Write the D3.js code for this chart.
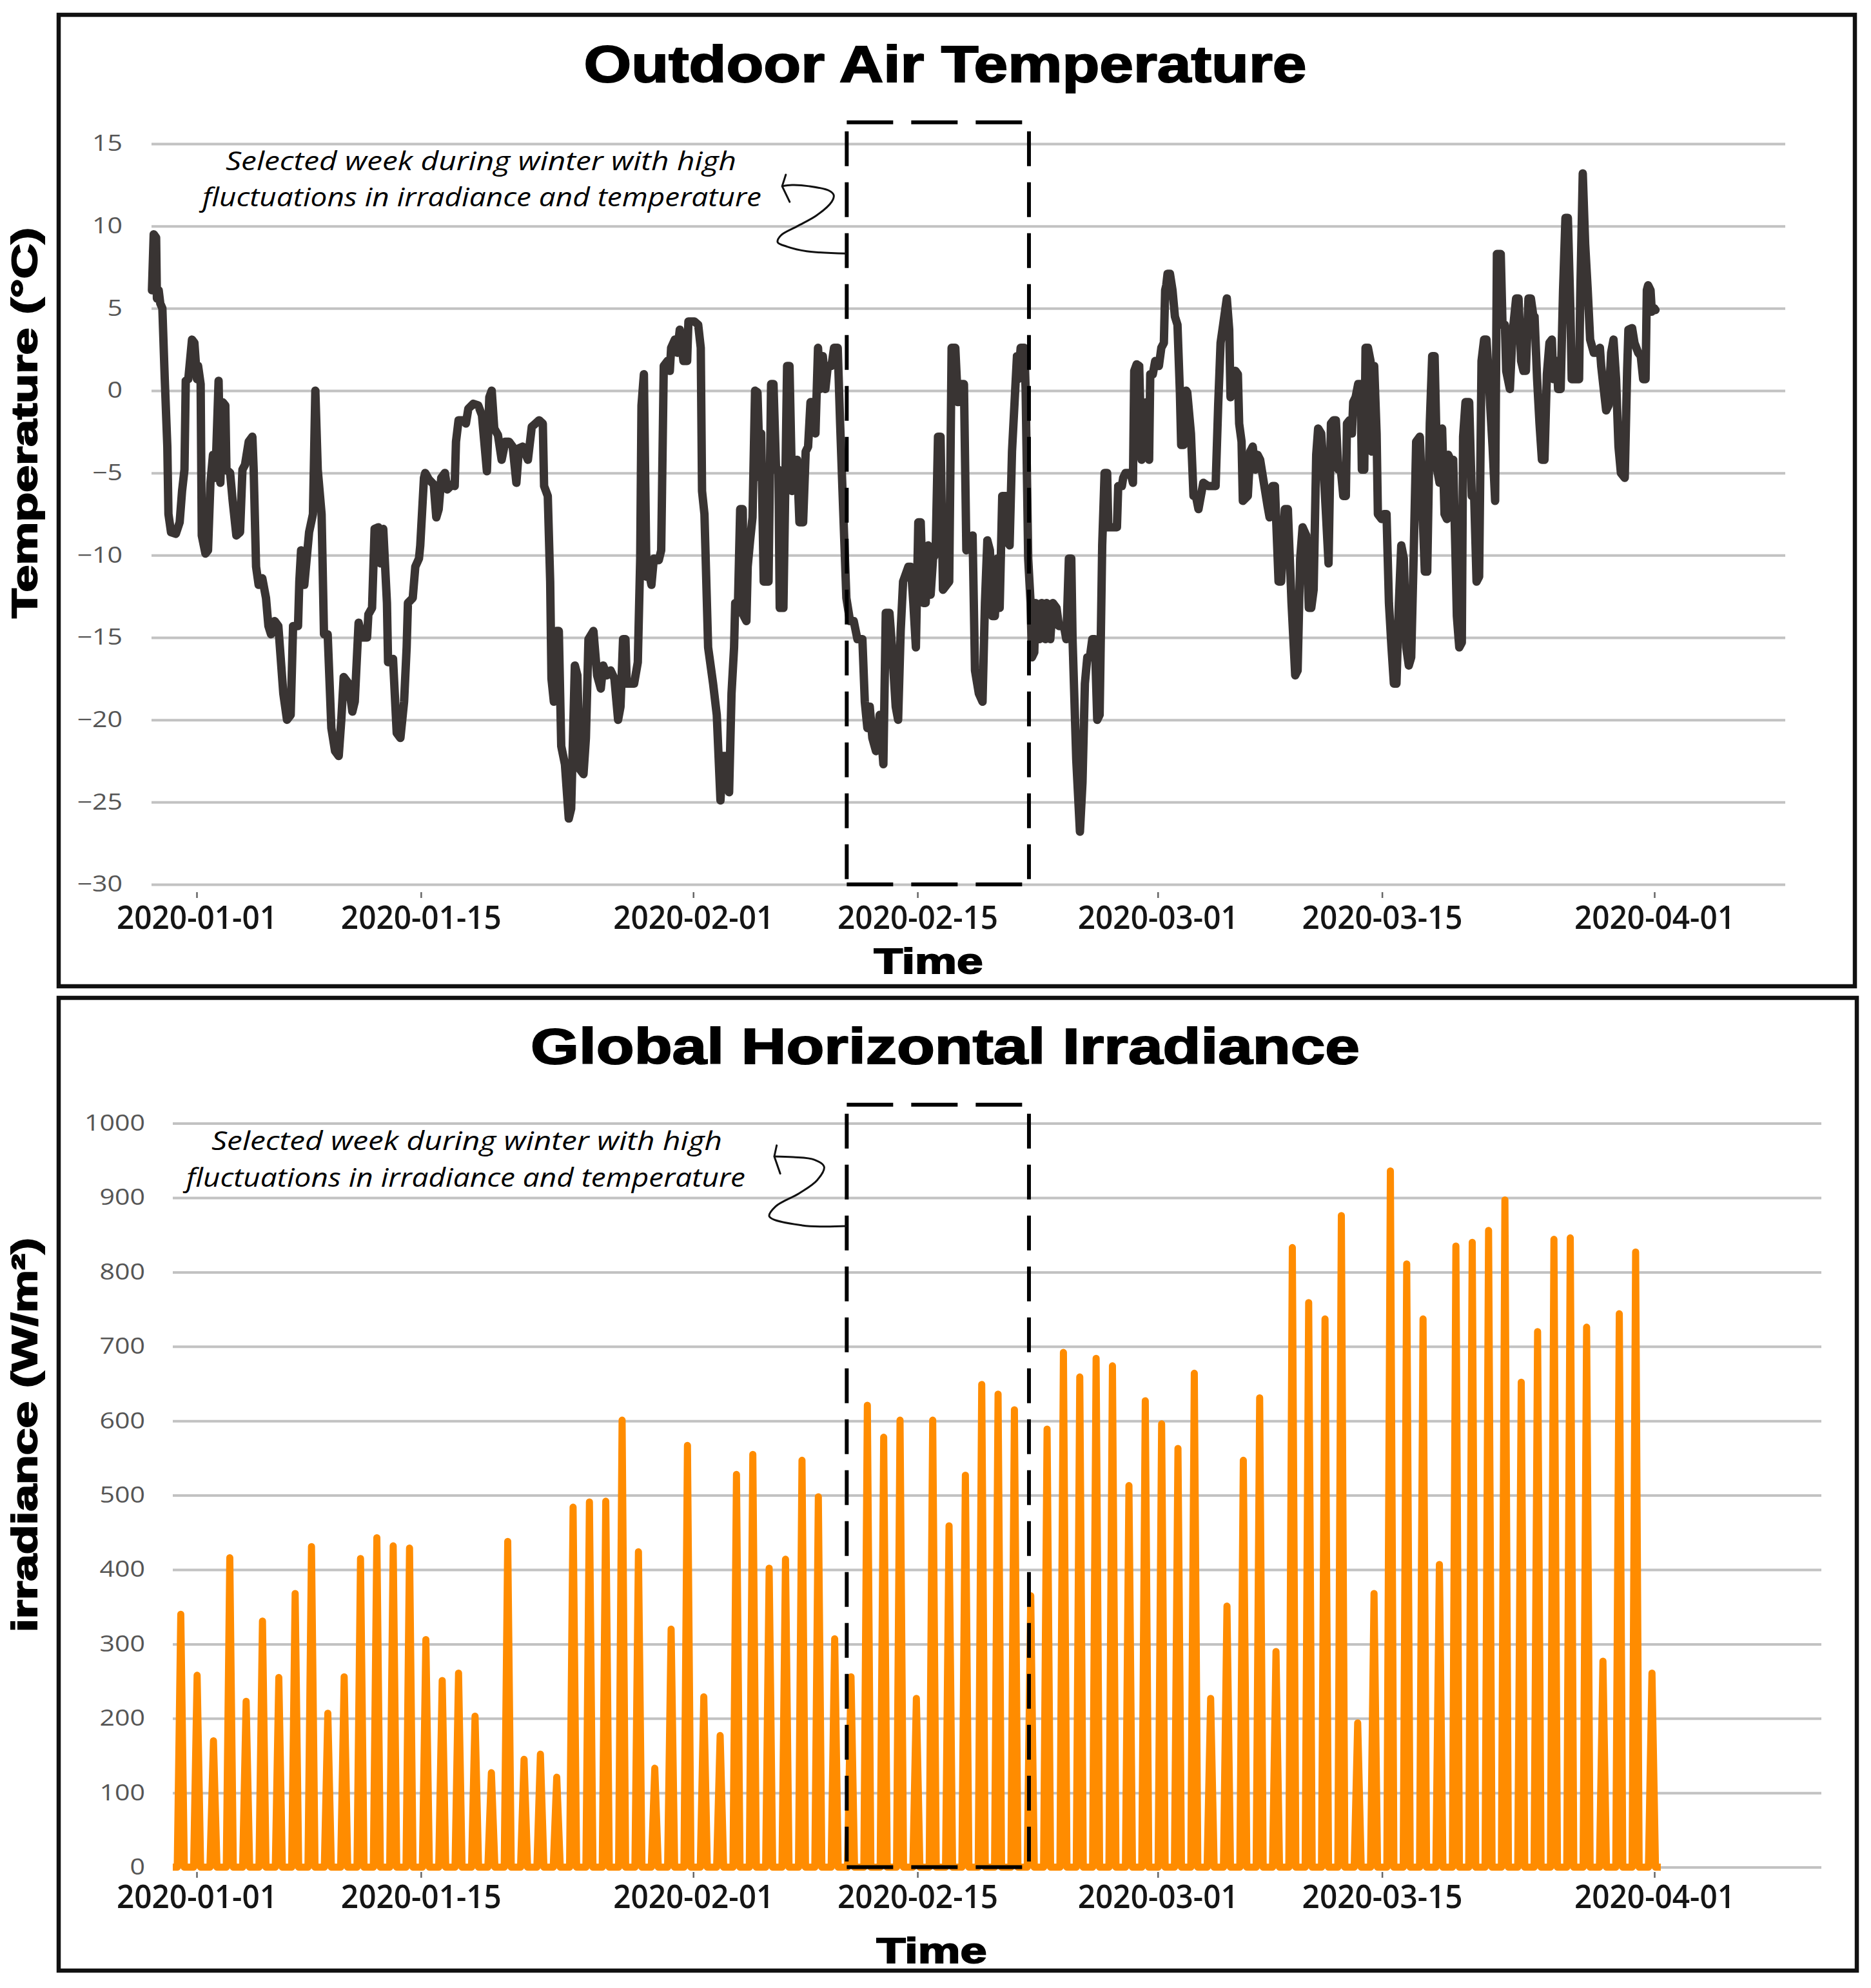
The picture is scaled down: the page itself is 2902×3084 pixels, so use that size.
<!DOCTYPE html>
<html>
<head>
<meta charset="utf-8">
<script src="https://d3js.org/d3.v7.min.js"></script>
<style>
body { margin: 0; background: #fff; }
svg { display: block; }
</style>
</head>
<body>
<div id="chart"></div>
<script>
// ---- data ----
var dateTicks = ["2020-01-01", "2020-01-15", "2020-02-01", "2020-02-15", "2020-03-01", "2020-03-15", "2020-04-01"];
var tempTicks = [-30, -25, -20, -15, -10, -5, 0, 5, 10, 15];
var irrTicks = [0, 100, 200, 300, 400, 500, 600, 700, 800, 900, 1000];

// [days after 2020-01-01 00:00 UTC, temperature degC]
var tempSeries = [
[-2.79,6.1],[-2.68,9.5],[-2.53,9.3],[-2.48,5.6],[-2.37,6.1],[-2.27,5.3],[-2.14,5.0],[-1.99,0.7],[-1.83,-3.4],[-1.76,-7.5],[-1.60,-8.6],[-1.30,-8.7],[-1.06,-8.0],[-0.91,-6.1],[-0.76,-4.8],[-0.68,0.6],[-0.52,0.7],[-0.29,3.1],[-0.14,2.9],[0.02,0.7],[0.09,1.5],[0.25,0.4],[0.32,-8.8],[0.55,-9.9],[0.71,-9.7],[0.86,-5.6],[1.02,-3.9],[1.17,-5.3],[1.37,0.6],[1.48,-5.6],[1.63,-0.7],[1.79,-0.9],[1.86,-4.8],[2.09,-5.0],[2.25,-6.7],[2.48,-8.8],[2.71,-8.6],[2.86,-4.8],[3.02,-4.5],[3.25,-3.1],[3.48,-2.8],[3.56,-4.8],[3.71,-10.7],[3.87,-11.8],[4.10,-11.4],[4.33,-12.6],[4.48,-14.3],[4.64,-14.8],[4.87,-14.0],[5.10,-14.3],[5.41,-18.4],[5.64,-20.0],[5.87,-19.7],[6.02,-14.3],[6.33,-14.3],[6.41,-11.6],[6.52,-9.7],[6.72,-11.8],[6.87,-10.2],[7.02,-8.6],[7.26,-7.5],[7.41,0.0],[7.56,-4.8],[7.80,-7.5],[7.95,-14.8],[8.18,-14.8],[8.41,-20.5],[8.64,-21.9],[8.87,-22.2],[9.03,-20.0],[9.18,-17.4],[9.49,-17.8],[9.72,-19.5],[9.87,-18.9],[10.11,-14.1],[10.34,-15.0],[10.64,-15.0],[10.72,-13.6],[10.95,-13.2],[11.11,-8.4],[11.34,-8.3],[11.49,-10.5],[11.65,-8.4],[11.88,-12.9],[11.95,-16.5],[12.26,-16.3],[12.49,-20.8],[12.72,-21.1],[12.95,-18.9],[13.11,-15.6],[13.19,-12.9],[13.49,-12.6],[13.65,-10.7],[13.88,-10.2],[13.96,-9.4],[14.19,-5.3],[14.27,-5.0],[14.5,-5.4],[14.8,-5.7],[14.96,-7.7],[15.11,-7.2],[15.27,-5.3],[15.5,-5.0],[15.65,-6.0],[15.96,-5.7],[16.11,-5.8],[16.19,-3.1],[16.35,-1.8],[16.65,-1.8],[16.81,-2.0],[16.96,-1.1],[17.27,-0.8],[17.58,-0.9],[17.81,-1.5],[18.12,-4.9],[18.27,-0.4],[18.42,0.0],[18.58,-2.3],[18.81,-2.7],[19.04,-4.2],[19.27,-3.1],[19.5,-3.1],[19.73,-3.4],[19.96,-5.6],[20.12,-3.5],[20.35,-3.4],
[20.68,-4.2],[20.92,-2.2],[21.15,-2.0],[21.38,-1.8],[21.61,-2.0],[21.69,-5.8],[21.92,-6.4],[22.07,-11.6],[22.15,-17.5],[22.30,-18.9],[22.46,-14.6],[22.61,-14.6],[22.76,-21.6],[22.99,-22.7],[23.23,-26.0],[23.38,-25.4],[23.61,-16.7],[23.77,-17.3],[23.92,-23.0],[24.15,-23.3],[24.3,-21.1],[24.46,-15.1],[24.77,-14.6],[25.0,-17.3],[25.23,-18.1],[25.38,-16.7],[25.61,-17.3],[25.84,-17.0],[26.08,-17.5],[26.31,-20.0],[26.46,-19.2],[26.62,-15.1],[26.77,-15.1],[26.85,-17.8],[27.08,-17.8],[27.31,-17.8],[27.54,-16.5],[27.69,-10.2],[27.77,-0.9],[27.92,1.0],[28.08,-11.3],[28.23,-11.0],[28.39,-11.8],[28.54,-10.2],[28.85,-10.3],[29.0,-9.7],[29.16,1.5],[29.39,1.8],[29.54,1.2],[29.62,2.6],[29.85,3.1],[30.0,2.3],[30.16,3.7],[30.39,1.8],[30.62,1.8],[30.7,4.2],[31.08,4.2],[31.31,4.0],[31.47,2.6],[31.55,-6.1],[31.7,-7.5],[31.93,-15.6],[32.24,-17.8],[32.47,-19.7],[32.7,-24.9],[32.85,-22.2],[33.01,-22.2],[33.24,-24.4],[33.39,-18.4],[33.55,-15.6],[33.62,-12.9],[33.78,-13.5],[33.93,-7.2],[34.09,-7.2],[34.16,-13.7],[34.32,-14.0],[34.4,-10.7],[34.55,-9.1],[34.7,-7.7],[34.86,0.0],[35.01,-0.1],[35.17,-5.3],[35.24,-2.6],[35.4,-11.6],[35.7,-11.6],[35.86,0.4],[36.01,0.4],[36.17,-4.8],[36.32,-4.8],[36.4,-13.2],[36.63,-13.2],[36.86,1.5],[37.01,1.5],[37.17,-6.1],[37.32,-4.8],[37.48,-4.2],[37.63,-8.0],[37.86,-8.0],[38.02,-3.7],[38.17,-3.4],[38.32,-0.7],[38.48,-0.7],[38.63,-2.6],[38.79,2.6],[38.94,0.1],[39.09,2.1],[39.25,0.1],[39.4,1.5],[39.63,1.5],[39.79,2.6],[40.02,2.6],[40.17,-2.0],[40.33,-6.4],[40.56,-12.6],[40.79,-14.0],[41.02,-14.0],[41.25,-15.1],[41.56,-15.1],[41.71,-18.9],[41.87,-20.5],[42.02,-19.2],[42.18,-21.1],[42.41,-21.9],[42.64,-19.7],[42.87,-22.7],[43.02,-13.5],[43.25,-13.5],[43.41,-15.6],[43.64,-19.2],[43.79,-20.0],[43.95,-14.6],[44.1,-11.6],
[44.43,-10.7],[44.59,-10.7],[44.74,-12.9],[44.9,-15.6],[45.05,-8.0],[45.2,-8.0],[45.36,-12.9],[45.51,-12.9],[45.67,-9.4],[45.82,-12.4],[45.97,-10.2],[46.13,-9.9],[46.28,-2.8],[46.44,-2.8],[46.59,-12.1],[46.82,-11.8],[46.98,-11.6],[47.13,2.6],[47.36,2.6],[47.52,-0.7],[47.67,0.4],[47.9,0.4],[48.05,-9.7],[48.29,-9.1],[48.44,-8.8],[48.59,-17.0],[48.83,-18.4],[49.06,-18.9],[49.21,-12.9],[49.36,-9.1],[49.52,-9.7],[49.67,-13.7],[49.83,-13.7],[49.98,-10.2],[50.13,-13.2],[50.29,-6.4],[50.52,-6.4],[50.6,-9.1],[50.75,-9.4],[50.9,-3.7],[51.06,-0.7],[51.21,2.1],[51.29,0.7],[51.44,2.6],[51.67,2.6],[51.75,0.1],[51.91,-10.2],[52.06,-12.9],[52.14,-16.2],[52.29,-15.9],[52.37,-12.9],[52.6,-15.1],[52.75,-12.9],[52.98,-15.1],[53.06,-12.9],[53.29,-15.1],[53.45,-12.9],[53.68,-13.2],[53.83,-14.3],[54.14,-14.3],[54.29,-15.1],[54.45,-10.2],[54.6,-10.2],[54.68,-15.1],[54.91,-22.4],[55.14,-26.8],[55.3,-23.8],[55.45,-17.8],[55.6,-16.2],[55.76,-16.2],[55.91,-15.1],[56.07,-15.1],[56.22,-20.0],[56.37,-19.7],[56.53,-9.4],[56.68,-5.0],[56.84,-5.0],[56.91,-8.3],[57.22,-8.3],[57.45,-8.3],[57.53,-5.8],[57.76,-5.8],[57.84,-5.3],[57.99,-5.0],[58.3,-5.0],[58.45,-5.6],[58.53,1.2],[58.68,1.6],[58.84,1.5],[58.99,-4.2],[59.15,-3.9],[59.3,-0.7],[59.46,-4.2],[59.53,1.0],[59.69,1.0],[59.84,1.8],[60.07,1.5],[60.22,2.6],[60.38,2.9],[60.46,6.1],[60.53,6.4],[60.61,7.1],[60.76,7.1],[60.92,6.1],[61.07,4.5],[61.23,4.0],[61.38,-0.1],[61.46,-3.3],[61.61,-3.3],[61.77,0.0],[61.84,-0.1],[62.07,-2.6],[62.23,-6.4],[62.38,-6.4],[62.54,-7.2],[62.69,-6.4],[62.84,-5.6],[63.15,-5.8],[63.46,-5.8],[63.61,-5.8],[63.77,-0.9],[63.92,2.9],[64.08,4.0],[64.31,5.6],[64.46,3.7],[64.54,-0.4],[64.69,0.1],[64.85,1.2],[65.0,1.0],[65.08,-2.0],[65.23,-3.1],[65.31,-6.7],[65.62,-6.4],[65.77,-3.7],[65.93,-3.4],[66.08,-4.8],[66.23,-3.9],[66.39,-4.2],[66.62,-5.6],[66.85,-7.0],[66.98,-7.7],[67.16,-5.8],[67.31,-5.8],[67.54,-11.6],[67.7,-11.6],[67.93,-7.2],
[68.12,-7.2],[68.35,-12.9],[68.58,-17.3],[68.73,-17.0],[68.89,-10.2],[69.04,-8.3],[69.27,-8.8],[69.43,-13.2],[69.58,-13.2],[69.73,-12.1],[69.89,-3.9],[70.01,-2.3],[70.2,-2.6],[70.35,-4.8],[70.5,-7.5],[70.66,-10.5],[70.81,-2.0],[70.97,-1.8],[71.12,-1.8],[71.27,-4.8],[71.43,-4.8],[71.58,-6.4],[71.74,-6.4],[71.81,-2.0],[71.97,-1.8],[72.12,-2.6],[72.2,-0.7],[72.35,-0.4],[72.51,0.4],[72.66,0.4],[72.74,-4.8],[72.89,-4.8],[72.97,2.6],[73.12,2.6],[73.28,1.8],[73.36,-3.7],[73.51,1.5],[73.66,-2.6],[73.74,-7.5],[73.97,-7.8],[74.13,-7.5],[74.28,-7.5],[74.43,-12.9],[74.59,-15.6],[74.74,-17.8],[74.9,-17.8],[75.05,-12.9],[75.2,-9.4],[75.36,-10.2],[75.51,-15.6],[75.67,-16.7],[75.82,-16.2],[75.97,-10.2],[76.13,-3.1],[76.36,-2.8],[76.51,-6.9],[76.67,-11.0],[76.82,-11.0],[76.98,-2.0],[77.13,2.1],[77.28,2.1],[77.44,-4.8],[77.59,-5.6],[77.75,-2.3],[77.9,-7.5],[78.05,-7.8],[78.13,-3.9],[78.28,-4.2],[78.44,-4.2],[78.59,-10.2],[78.67,-13.7],[78.82,-15.6],[78.98,-15.3],[79.06,-2.8],[79.21,-0.7],[79.44,-0.7],[79.6,-6.4],[79.75,-6.4],[79.9,-11.6],[80.06,-11.3],[80.21,1.8],[80.37,3.1],[80.52,3.1],[80.67,0.7],[80.75,-0.9],[80.9,-3.4],[81.06,-6.7],[81.17,8.3],[81.41,8.3],[81.52,4.0],[81.67,4.0],[81.75,1.2],[81.98,0.1],[82.14,3.4],[82.37,5.6],[82.52,5.6],[82.68,1.8],[82.83,1.2],[82.98,1.2],[83.14,5.6],[83.29,5.6],[83.45,4.5],[83.52,4.5],[83.68,0.7],[83.83,-2.0],[83.98,-4.2],[84.14,-4.2],[84.29,1.0],[84.45,2.9],[84.6,3.1],[84.68,0.7],[84.91,1.8],[84.99,0.1],[85.15,0.1],[85.3,6.1],[85.45,10.5],[85.6,10.5],[85.76,4.8],[85.84,0.7],[85.99,0.7],[86.3,0.7],[86.37,5.6],[86.53,13.2],[86.68,8.9],[86.84,6.1],[86.99,3.1],[87.22,2.3],[87.45,2.3],[87.6,2.6],[87.68,1.5],[87.84,0.1],[87.99,-1.2],[88.14,-0.9],[88.3,2.3],[88.45,3.1],[88.61,0.7],[88.76,-3.4],[88.91,-5.0],[89.15,-5.3],[89.3,1.2],[89.38,3.7],[89.61,3.8],[89.76,2.9],[89.99,2.3],[90.15,2.1],[90.3,0.7],[90.45,0.7],[90.53,6.1],[90.61,6.4],[90.76,6.1],[90.84,4.8],[90.99,5.0],[91.07,4.9]
];

// daily irradiance peaks: time (days after 2020-01-01) and peak W/m2
var irrPeakDays = [-0.99,0.03,1.05,2.07,3.09,4.11,5.13,6.15,7.17,8.19,9.21,10.23,11.25,12.27,13.29,14.31,15.33,16.35,17.38,18.40,19.42,20.44,21.46,22.48,23.50,24.52,25.54,26.56,27.58,28.60,29.62,30.64,31.66,32.68,33.70,34.72,35.74,36.76,37.79,38.81,39.83,40.85,41.87,42.89,43.91,44.93,45.95,46.97,47.99,49.01,50.03,51.05,52.07,53.09,54.11,55.13,56.15,57.17,58.20,59.22,60.24,61.26,62.28,63.30,64.32,65.34,66.36,67.38,68.40,69.42,70.44,71.46,72.48,73.50,74.52,75.54,76.56,77.58,78.61,79.63,80.65,81.67,82.69,83.71,84.73,85.75,86.77,87.79,88.81,89.83,90.85];
var irrPeakValues = [340,258,170,416,223,331,255,368,431,207,256,415,443,432,429,306,251,261,203,127,438,145,152,121,484,491,492,601,424,133,320,567,229,177,528,555,402,414,547,498,307,256,621,578,601,227,601,459,527,649,636,615,365,589,692,659,684,674,513,627,596,563,664,227,351,547,631,290,833,759,737,876,194,368,936,811,737,407,835,840,856,897,652,720,844,846,726,277,744,827,261];
var irrSpan = [-1.49, 91.4];

var selectedWeek = ["2020-02-10T14:00Z", "2020-02-21T23:00Z"];
var tempBoxTop = 16.3;
var irrBoxTop = 1025;
var noteLines = ["Selected week during winter with high", "fluctuations in irradiance and temperature"];

// hand-drawn arrows, in data units of each panel
var tempArrow = [[40.56,8.33],[38.08,8.47],[36.86,8.75],[36.27,9.02],[36.47,9.43],[37.48,9.98],[38.71,10.65],[39.64,11.47],[39.77,11.88],[39.48,12.15],[38.24,12.42],[37.16,12.49],[36.55,12.42]];
var tempArrowHead = [[36.78,13.12],[36.55,12.42],[37.02,11.47]];
var irrArrow = [[40.58,861.9],[37.8,862.8],[35.75,874.9],[36.14,888.2],[37.63,906.1],[38.73,923.4],[39.17,941.6],[38.56,951.1],[37.24,954.6],[36.06,955.5]];
var irrArrowHead = [[36.21,970.3],[36.06,955.5],[36.43,932.4]];

// ---- drawing ----
var W = 2902, H = 3084;
var svg = d3.select("#chart").append("svg").attr("width", W).attr("height", H);
svg.append("rect").attr("width", W).attr("height", H).attr("fill", "#fff");

var t0 = Date.UTC(2020, 0, 1);
function toDate(d) { return new Date(t0 + d * 864e5); }

var x = d3.scaleUtc()
    .domain([new Date("2020-01-01T00:00Z"), new Date("2020-04-01T00:00Z")])
    .range([305, 2566]);

var yT = d3.scaleLinear().domain([-30, 15]).range([1372, 223]);
var yI = d3.scaleLinear().domain([0, 1000]).range([2896.6, 1742.6]);

function panelFrame(r) {
  svg.append("rect").attr("x", r[0]).attr("y", r[1]).attr("width", r[2] - r[0]).attr("height", r[3] - r[1])
    .attr("fill", "none").attr("stroke", "#111").attr("stroke-width", 6.5);
}

function yAxisGrid(y, ticks, gx0, gx1, pad) {
  var g = svg.append("g").attr("transform", "translate(" + gx0 + ",0)")
    .call(d3.axisLeft(y).tickValues(ticks).tickSize(-(gx1 - gx0)).tickPadding(pad).tickFormat(d3.format("d")));
  g.select(".domain").remove();
  g.selectAll(".tick line").attr("stroke", "#c2c2c2").attr("stroke-width", 4);
  g.selectAll(".tick text")
    .attr("fill", "#555").attr("font-size", 34).attr("font-family", "Open Sans, sans-serif")
    .attr("textLength", function(d) { return d3.format("d")(d).length * 23.5; })
    .attr("lengthAdjust", "spacingAndGlyphs");
}

function xAxis(yPos, pad) {
  var g = svg.append("g").attr("transform", "translate(0," + yPos + ")")
    .call(d3.axisBottom(x).tickValues(dateTicks.map(function(d) { return new Date(d + "T00:00Z"); }))
      .tickFormat(d3.utcFormat("%Y-%m-%d")).tickSize(9).tickPadding(pad));
  g.select(".domain").remove();
  g.selectAll(".tick line").attr("stroke", "#666").attr("stroke-width", 2.5);
  g.selectAll(".tick text")
    .attr("fill", "#151515").attr("font-size", 50).attr("font-weight", 600)
    .attr("font-family", "Open Sans, sans-serif")
    .attr("textLength", 249).attr("lengthAdjust", "spacingAndGlyphs");
}

function heavyText(tx, ty, size, len, str, rot) {
  return svg.append("text")
    .attr("transform", "translate(" + tx + "," + ty + ")" + (rot ? " rotate(-90)" : ""))
    .attr("text-anchor", "middle")
    .attr("font-family", "Liberation Sans, Arial, sans-serif")
    .attr("font-weight", 700).attr("font-size", size)
    .attr("fill", "#000").attr("stroke", "#000").attr("stroke-width", 2)
    .attr("textLength", len).attr("lengthAdjust", "spacingAndGlyphs")
    .text(str);
}

function selectionBox(y, top, bottom) {
  var xa = x(new Date(selectedWeek[0])), xb = x(new Date(selectedWeek[1]));
  var ya = y(top), yb = y(bottom);
  var g = svg.append("g").attr("stroke", "#000").attr("stroke-width", 6).attr("fill", "none");
  g.append("line").attr("x1", xa).attr("x2", xb).attr("y1", ya).attr("y2", ya).attr("stroke-dasharray", "72 28");
  g.append("line").attr("x1", xa).attr("x2", xb).attr("y1", yb).attr("y2", yb).attr("stroke-dasharray", "72 28");
  g.append("line").attr("x1", xa).attr("x2", xa).attr("y1", ya + 14).attr("y2", yb).attr("stroke-dasharray", "54 25");
  g.append("line").attr("x1", xb).attr("x2", xb).attr("y1", ya + 14).attr("y2", yb).attr("stroke-dasharray", "54 25");
}

function arrow(y, pts, head) {
  var curve = d3.line().x(function(d) { return x(toDate(d[0])); }).y(function(d) { return y(d[1]); })
    .curve(d3.curveCatmullRom.alpha(0.5));
  var straight = d3.line().x(function(d) { return x(toDate(d[0])); }).y(function(d) { return y(d[1]); });
  svg.append("path").attr("d", curve(pts)).attr("fill", "none").attr("stroke", "#111").attr("stroke-width", 3);
  svg.append("path").attr("d", straight(head)).attr("fill", "none").attr("stroke", "#111").attr("stroke-width", 3)
    .attr("stroke-linecap", "round").attr("stroke-linejoin", "round");
}

function note(x1, base1, x2, base2) {
  var lens = [792, 867];
  [[x1, base1], [x2, base2]].forEach(function(p, i) {
    svg.append("text").attr("x", p[0]).attr("y", p[1])
      .attr("font-family", "Open Sans, sans-serif").attr("font-style", "italic")
      .attr("font-size", 40).attr("fill", "#000")
      .attr("textLength", lens[i]).attr("lengthAdjust", "spacingAndGlyphs")
      .text(noteLines[i]);
  });
}

// ---------- top panel: temperature ----------
panelFrame([91, 23, 2877, 1530]);
yAxisGrid(yT, tempTicks, 235, 2769, 45);
xAxis(1384, 12);

var tempLine = d3.line()
  .x(function(d) { return x(toDate(d[0])); })
  .y(function(d) { return yT(d[1]); });
svg.append("path").datum(tempSeries).attr("d", tempLine)
  .attr("fill", "none").attr("stroke", "#393433").attr("stroke-width", 13)
  .attr("stroke-linejoin", "round").attr("stroke-linecap", "round");

selectionBox(yT, tempBoxTop, -30);
arrow(yT, tempArrow, tempArrowHead);
note(350, 264, 314, 320);

heavyText(1466, 127, 80, 1121, "Outdoor Air Temperature");
heavyText(1440, 1510, 56, 169, "Time");
heavyText(57, 656, 55, 606, "Temperature (\u00B0C)", true);

// ---------- bottom panel: irradiance ----------
panelFrame([91, 1548, 2880, 3057]);
yAxisGrid(yI, irrTicks, 268, 2825, 43);
xAxis(2904, 11);

var halfDay = 0.22;
var irrPoints = [[irrSpan[0], 0]];
irrPeakDays.forEach(function(d, i) {
  irrPoints.push([d - halfDay, 0], [d, irrPeakValues[i]], [d + halfDay, 0]);
});
irrPoints.push([irrSpan[1], 0]);

var irrArea = d3.area()
  .x(function(d) { return x(toDate(d[0])); })
  .y0(yI(0))
  .y1(function(d) { return yI(d[1]); });
var irrLine = d3.line()
  .x(function(d) { return x(toDate(d[0])); })
  .y(function(d) { return yI(d[1]); });
svg.append("path").datum(irrPoints).attr("d", irrArea).attr("fill", "#ff8c00");
svg.append("path").datum(irrPoints).attr("d", irrLine)
  .attr("fill", "none").attr("stroke", "#ff8c00").attr("stroke-width", 11)
  .attr("stroke-linejoin", "round");

selectionBox(yI, irrBoxTop, 0);
arrow(yI, irrArrow, irrArrowHead);
note(328, 1784, 289, 1841);

heavyText(1466, 1650, 78, 1286, "Global Horizontal Irradiance");
heavyText(1445, 3045, 56, 171, "Time");
heavyText(57, 2226, 55, 612, "irradiance (W/m\u00B2)", true);
</script>
</body>
</html>
